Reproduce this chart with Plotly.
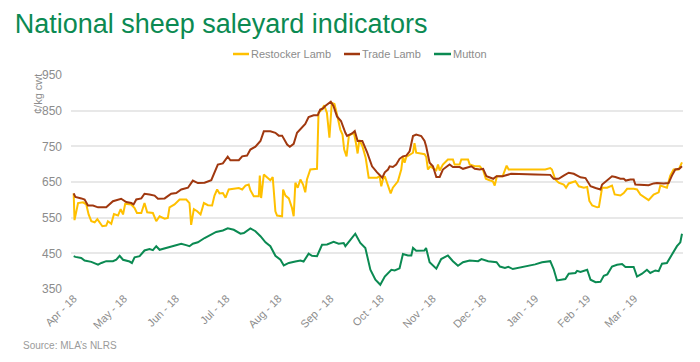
import pandas as pd
import plotly.graph_objects as go

# Days since 1 Apr 2018 and values (c/kg cwt)
mutton_days = [0, 1, 4.5, 6.5, 10.5, 14.5, 16.5, 19.4, 23.4, 25.4, 27.4, 29.4, 33.3, 34.7, 36.3, 39.3, 42.2, 45.2, 47.2, 49.2,
               51.2, 55.1, 60.1, 64.1, 67, 69, 71, 74, 78, 82, 84.9, 88.9, 91.8, 95.4, 99.4, 101.4, 105.3, 108.3, 111.3, 114.3,
               117.2, 120.2, 123.2, 125.2, 128.2, 132.1, 135.1, 137, 140, 142, 145, 148, 151, 154.9, 157.9, 160.9, 161.9, 164.9,
               167.8, 170.8, 173.8, 176.8, 179.8, 182.7, 184.5, 185.4, 189.3, 191.3, 194.2, 196.2, 199.2, 201.2, 202.2, 204.1,
               209, 210, 212.1, 216.1, 219, 223, 226, 229, 232, 236, 241, 243, 247, 252, 254, 257, 259, 261.7, 275, 279.1, 284,
               286, 288, 293, 295, 299, 300, 302, 306, 308, 311, 313.9, 315.9, 318, 320.8, 323.8, 326.8, 328.8, 333.7, 335.7,
               338.7, 341.6, 343.6, 346.6, 348.6, 350.6, 353.5, 356.5, 359.5, 361.5, 362.5]
mutton_vals = [442, 440, 437, 430, 426, 418, 423, 428, 428, 432, 443, 432, 427, 423, 439, 442, 458, 462, 459, 470,
               460, 465, 472, 477, 473, 470, 477, 481, 493, 502, 510, 514, 520, 516, 505, 507, 520, 512, 498, 481,
               470, 443, 432, 416, 423, 427, 430, 427, 449, 443, 442, 474, 475, 482, 477, 479, 470, 488,
               505, 479, 465, 404, 376, 362, 376, 385, 404, 402, 408, 448, 444, 444, 465, 457,
               458, 465, 425, 407, 434, 444, 428, 415, 425, 430, 428, 434, 428, 425, 413, 409, 412, 406, 419, 425, 428,
               406, 374, 378, 393, 395, 401, 398, 404, 376, 369, 370, 387, 391, 413, 418, 420, 412, 412, 385,
               393, 404, 395, 402, 400, 421, 423, 446, 470, 481, 505]

trade_days = [0, 1, 4.6, 6.5, 8.5, 11.5, 14.5, 19.4, 23.4, 28.3, 31.3, 34.3, 35.7, 37.3, 40.3, 42.2, 45.2, 48.2, 50.2, 54.2,
              58.1, 61.1, 64.1, 68.1, 71, 74, 78, 82, 85.9, 88.9, 91.8, 93.4, 98.4, 100.4, 103.3, 105.3, 108.3, 111.3, 113.3,
              117.2, 120.2, 122.2, 124.2, 127.2, 128.8, 131.1, 133.1, 135.5, 138, 140, 143, 145.4, 146.9, 148.5, 149.9, 153.2,
              154.8, 156.9, 159.3, 161.9, 162.9, 165.9, 167.5, 169.2, 172, 174.8, 177.8, 180.8, 182.3, 183.9, 185.4, 187.3,
              188.3, 190.2, 192.2, 194.2, 196.2, 198.2, 200.2, 202.2, 204.1, 207.1, 209.1, 210.1, 212.1, 214.1, 216.1, 218.1,
              220, 222, 224, 226, 230, 232, 235, 237, 239, 242, 244, 246, 250, 252, 255.6, 258.6, 260.6, 275, 284, 286, 289,
              292, 295, 298, 300, 302, 305, 308, 311, 313.9, 314.9, 317.9, 320.8, 322.8, 325.8, 327.8, 329, 331.7, 333.7,
              334.7, 338.7, 342.6, 345.6, 347.6, 351.5, 354.5, 356.5, 358.5, 360.9, 362.5]
trade_vals = [618, 608, 604, 601, 584, 584, 579, 579, 596, 603, 594, 591, 587, 601, 604, 617, 615, 612, 603, 604,
              617, 619, 629, 634, 654, 647, 648, 655, 699, 702, 721, 711, 711, 722, 724, 741, 749, 765, 792,
              792, 788, 780, 780, 755, 749, 757, 788, 799, 813, 832, 837, 837, 853, 856, 863, 875,
              863, 834, 821, 788, 779, 786, 793, 765, 765, 734, 694, 677, 671, 662, 677, 685,
              694, 692, 699, 715, 722, 724, 736, 779, 783, 779, 765, 749, 704, 694, 664, 664,
              685, 692, 699, 692, 692, 687, 692, 694, 687, 685, 687, 666, 659, 666, 666, 670, 673, 671, 670, 659, 659,
              668, 676, 673, 668, 663, 661, 638, 633, 629, 643, 655, 666, 664, 659, 659, 654, 657, 657,
              643, 641, 641, 646, 647, 646, 647, 668, 685, 687, 694]

restocker_days = [0, 0.5, 2.6, 5.6, 7.5, 8.9, 10.5, 12.5, 14.1, 15.5, 17.1, 19.4, 20.4, 22.4, 24, 26.4, 28, 29.4, 30.7, 34.3,
                  36.3, 37.7, 40.3, 42.2, 43.8, 47.2, 49.2, 51.2, 54.2, 56.1, 57.1, 60.1, 63.1, 67.1, 69, 70, 71.6, 73.6,
                  75.6, 77.6, 80, 82.5, 83.9, 85.5, 86.9, 88.9, 90.5, 92.4, 95.4, 98.4, 100.4, 102.4, 104.3, 105.3, 107.3,
                  110.3, 110.9, 111.7, 113.3, 115.3, 117.2, 118.6, 120.2, 121.2, 124.2, 124.8, 126.2, 128.2, 130.1, 131.1,
                  132.1, 133.5, 135.1, 136.7, 138, 139, 141, 145, 145.9, 147.9, 149.3, 150.9, 152.4, 153.8, 155.4, 156.9,
                  158.9, 160.2, 161.2, 162.6, 164, 165, 167, 168.2, 169.2, 170.2, 172, 174, 175.8, 180.8, 182.3, 183.3,
                  184.3, 185.4, 187.3, 188.9, 190.2, 193.2, 195.2, 196.2, 197.2, 198.2, 202.2, 203.1, 204.1, 206.1, 209.1,
                  210.1, 211.1, 212.5, 214.1, 216.1, 217.1, 218.1, 220, 223, 226, 227, 230, 231, 235, 236, 239, 242, 244,
                  245.6, 247.8, 249.8, 250.9, 252.2, 255.6, 258, 259.2, 275, 281, 284, 285, 287, 289, 292, 293.4, 295, 299,
                  301, 304, 306, 307.3, 309, 312, 313, 314.9, 317.9, 320.8, 322.4, 325.8, 327.8, 329.8, 333.7, 335.7, 337.7,
                  340.6, 342.6, 345.6, 348.6, 349.6, 351.5, 353.5, 355.5, 357.5, 360.5, 362.5]
restocker_vals = [618, 543, 591, 593, 587, 559, 540, 537, 546, 537, 526, 528, 540, 533, 560, 556, 574, 559, 589, 587,
                  577, 563, 563, 591, 565, 563, 540, 554, 547, 549, 579, 587, 601, 601, 591, 530, 574, 568,
                  559, 591, 585, 584, 612, 629, 618, 619, 606, 629, 632, 633, 629, 640, 643, 627, 610,
                  610, 668, 605, 671, 662, 655, 664, 568, 556, 554, 629, 612, 604, 577, 554,
                  648, 634, 657, 643, 621, 657, 685, 687, 844, 853, 865, 844, 774, 872, 869, 839,
                  797, 783, 741, 722, 780, 783, 788, 759, 730, 768, 751, 718, 662, 662, 666, 638,
                  657, 666, 643, 618, 634, 652, 685, 722, 704, 720, 732, 759, 732, 730, 728,
                  720, 685, 694, 690, 683, 699, 682, 699, 713, 713, 699, 699, 713, 713, 699, 694, 694, 683,
                  659, 655, 652, 640, 666, 666, 696, 685, 685, 685, 689, 685, 657, 648, 643, 634, 646, 652,
                  638, 634, 636, 597, 584, 579, 580, 634, 634, 640, 615, 612, 619, 631, 631, 629, 615,
                  605, 599, 615, 621, 640, 638, 634, 668, 685, 685, 705]

tick_dates = ["2018-04-01", "2018-05-01", "2018-06-01", "2018-07-01", "2018-08-01", "2018-09-01",
              "2018-10-01", "2018-11-01", "2018-12-01", "2019-01-01", "2019-02-01", "2019-03-01"]
tick_labels = ["Apr - 18", "May - 18", "Jun - 18", "Jul - 18", "Aug - 18", "Sep - 18",
               "Oct - 18", "Nov - 18", "Dec - 18", "Jan - 19", "Feb - 19", "Mar - 19"]
y_ticks = [350, 450, 550, 650, 750, 850, 950]

series_names = ["Restocker Lamb", "Trade Lamb", "Mutton"]
series_colors = ["#FFC000", "#A0380F", "#0B8A52"]

base = pd.Timestamp("2018-04-01")


def to_dates(days):
    return [base + pd.Timedelta(days=d) for d in days]


FONT = "Liberation Sans, Arial, sans-serif"
GREY = "#8c8c8c"

W, H = 700, 362
ML, MR, MT, MB = 71, 17, 75, 73
PW, PH = W - ML - MR, H - MT - MB


def px_x(px):
    return (px - ML) / PW


def px_y(py):
    return (H - MB - py) / PH


fig = go.Figure()
for days, vals, name, color in zip([restocker_days, trade_days, mutton_days],
                                   [restocker_vals, trade_vals, mutton_vals],
                                   series_names, series_colors):
    fig.add_trace(go.Scatter(x=to_dates(days), y=vals, mode="lines", name=name,
                             line=dict(color=color, width=2), showlegend=False))

fig.update_layout(
    width=W, height=H,
    margin=dict(l=ML, r=MR, t=MT, b=MB, autoexpand=False),
    paper_bgcolor="white", plot_bgcolor="white",
    font=dict(family=FONT, color=GREY, size=12),
    title=dict(text="National sheep saleyard indicators", x=0.021, xanchor="left",
               y=1 - 24 / H, yanchor="middle", yref="container",
               font=dict(family=FONT, size=27, color="#0B8A52")),
    showlegend=False,
    hovermode=False,
)
fig.update_xaxes(type="date", range=[base - pd.Timedelta(days=1.6), base + pd.Timedelta(days=363.1)],
                 tickvals=tick_dates, ticktext=tick_labels, tickangle=-45, showgrid=False,
                 showline=False, zeroline=False, ticks="", tickfont=dict(size=11, color=GREY))
fig.update_yaxes(range=[350, 950], tickvals=y_ticks, showgrid=True, gridcolor="#e8e8e8", gridwidth=1.5,
                 zeroline=False, showline=False, ticks="", tickfont=dict(size=12, color=GREY), ticklabelstandoff=8)

# custom legend (short line swatches)
legend_line_px = [(233, 249), (344, 360), (434, 451)]
legend_y = px_y(54)
for (x0, x1), name, color in zip(legend_line_px, series_names, series_colors):
    fig.add_shape(type="line", xref="paper", yref="paper", x0=px_x(x0), x1=px_x(x1), y0=legend_y, y1=legend_y,
                  line=dict(color=color, width=2.5))
    fig.add_annotation(text=name, xref="paper", yref="paper", x=px_x(x1 + 0.5), y=legend_y, showarrow=False,
                       xanchor="left", yanchor="middle", font=dict(size=11, color=GREY), borderpad=0)

fig.add_annotation(text="¢/kg cwt", textangle=-90, x=px_x(38), xref="paper", y=950, yref="y",
                   showarrow=False, xanchor="center", yanchor="top", yshift=3, font=dict(size=11, color=GREY))
fig.add_annotation(text="Source: MLA’s NLRS", x=px_x(21), xref="paper", y=px_y(345), yref="paper",
                   showarrow=False, xanchor="left", yanchor="middle", font=dict(size=10, color="#9a9a9a"))

fig.write_html("out.html", config={"displayModeBar": False},
               post_script="document.body.style.margin='0';document.body.style.padding='0';")
